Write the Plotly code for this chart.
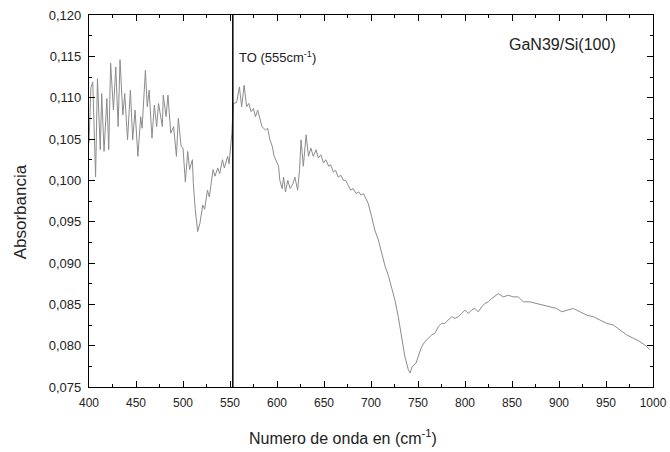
import plotly.graph_objects as go

wavenumber = [
    400, 402, 404, 407, 409, 412, 413.5, 416, 419, 421, 423, 426, 428.5, 431, 433, 436, 438, 441,
    444, 446.5, 449, 452, 455, 456.5, 460, 462, 464, 467, 469.5, 472, 474, 478, 479, 482, 484, 487,
    490, 493, 495, 498, 500, 502.5, 505, 507, 510, 511, 513, 515.6, 518, 521, 523, 526, 528, 532,
    534, 537, 539, 542, 544, 547.5, 549, 552,
    553.5, 557, 560, 562.4, 565, 567.7, 570, 572.5, 575, 577, 579.5, 582, 584, 587.6, 590, 592.5,
    595, 597, 599.6, 601.7, 603, 605.5, 607, 609, 611.5, 614, 617, 619, 622, 624, 625.6, 628, 631,
    633.5, 636, 638.6, 641.5, 644, 646.6, 649.5, 652, 655, 657, 660, 662.4, 665, 668, 670.5, 673,
    676, 678.5, 681, 684, 687, 689.4, 692,
    697, 700.7, 704, 707.8, 711.4, 715, 718.4, 722, 725.5, 729, 732.6, 736, 739.7, 741.5, 744, 748,
    751.4, 754, 757.4, 761, 764.6, 768, 771.6, 775, 778.7, 782, 785.9, 789.4, 793, 796.5, 800,
    803.5, 807, 810.6, 814, 817.8, 821, 824.8, 828.4, 835.4, 840.7, 846, 851.4, 856.7, 862, 869,
    876.3, 883.3, 890.4, 897.5, 902.9, 908.2, 915.2, 922.3, 929.4, 936.5, 943.6, 950.7, 957.8,
    964.9, 972, 979, 986, 993.3, 996.8,
]

absorbance = [
    0.1045, 0.1112, 0.1119, 0.1004, 0.1123, 0.1037, 0.1105, 0.1035, 0.1099, 0.1037, 0.1142, 0.1085,
    0.1137, 0.1065, 0.1146, 0.1079, 0.1105, 0.1049, 0.1109, 0.1049, 0.1085, 0.1029, 0.1077, 0.1063,
    0.1133, 0.1089, 0.1109, 0.1051, 0.1091, 0.1065, 0.1093, 0.1065, 0.1103, 0.1077, 0.1103, 0.1057,
    0.1065, 0.1029, 0.1075, 0.1041, 0.1039, 0.0998, 0.1035, 0.1013, 0.1025, 0.0996, 0.0965, 0.0938,
    0.0948, 0.0970, 0.0965, 0.0988, 0.0980, 0.1013, 0.1005, 0.1015, 0.1008, 0.1025, 0.1015, 0.1029,
    0.1020, 0.1057,
    0.1093, 0.1094, 0.1113, 0.1089, 0.1115, 0.1089, 0.1093, 0.1083, 0.1087, 0.1077, 0.1085, 0.1075,
    0.1065, 0.1061, 0.1063, 0.1049, 0.1041, 0.1029, 0.1023, 0.1017, 0.1000, 0.0990, 0.1004, 0.0986,
    0.1000, 0.0990, 0.0996, 0.1004, 0.0988, 0.1013, 0.1049, 0.1017, 0.1055, 0.1029, 0.1039, 0.1029,
    0.1037, 0.1027, 0.1031, 0.1021, 0.1025, 0.1017, 0.1019, 0.1010, 0.1012, 0.1004, 0.1006, 0.1000,
    0.1000, 0.0994, 0.0988, 0.0990, 0.0984, 0.0986, 0.0982, 0.0984,
    0.0972, 0.0956, 0.0940, 0.0928, 0.0912, 0.0896, 0.0885, 0.0871, 0.0855, 0.0835, 0.0811, 0.0787,
    0.0771, 0.0767, 0.0775, 0.0779, 0.0791, 0.0799, 0.0805, 0.0809, 0.0813, 0.0815, 0.0823, 0.0827,
    0.0827, 0.0831, 0.0835, 0.0833, 0.0835, 0.0839, 0.0843, 0.0839, 0.0843, 0.0845, 0.0841, 0.0847,
    0.0851, 0.0853, 0.0857, 0.0863, 0.0859, 0.0861, 0.0859, 0.0859, 0.0853, 0.0853, 0.0851, 0.0849,
    0.0847, 0.0845, 0.0841, 0.0843, 0.0845, 0.0841, 0.0837, 0.0835, 0.0831, 0.0827, 0.0825, 0.0819,
    0.0813, 0.0809, 0.0805, 0.0799, 0.0795,
]

to_position = 553
x_ticks = list(range(400, 1001, 50))
y_ticks = [0.075, 0.080, 0.085, 0.090, 0.095, 0.100, 0.105, 0.110, 0.115, 0.120]

fig = go.Figure()
fig.add_trace(go.Scatter(
    x=wavenumber, y=absorbance, mode="lines",
    line=dict(color="#8c8c8c", width=1), showlegend=False,
))

fig.add_shape(type="line", x0=to_position, x1=to_position, y0=0.075, y1=0.120,
              xref="x", yref="y", line=dict(color="black", width=1.5))

fig.add_annotation(x=557, y=0.1149, xref="x", yref="y", text="TO (555cm<sup>-1</sup>)",
                   showarrow=False, xanchor="left", yanchor="middle",
                   font=dict(size=13, color="#222"))
fig.add_annotation(x=845, y=0.1164, xref="x", yref="y", text="GaN39/Si(100)",
                   showarrow=False, xanchor="left", yanchor="middle",
                   font=dict(size=16, color="#222"))

# axis titles placed as annotations to match the reference positions
fig.add_annotation(x=-0.122, y=0.47, xref="paper", yref="paper", text="Absorbancia",
                   textangle=-90, showarrow=False, xanchor="center", yanchor="middle",
                   font=dict(size=17, color="#222"))
fig.add_annotation(x=0.45, y=-0.134, xref="paper", yref="paper",
                   text="Numero de onda en (cm<sup>-1</sup>)",
                   showarrow=False, xanchor="center", yanchor="middle",
                   font=dict(size=16, color="#222"))

axis_common = dict(
    showline=True, linecolor="black", linewidth=1.2, mirror="ticks",
    ticks="inside", ticklen=6, tickcolor="black", showgrid=False, zeroline=False,
    automargin=False,
)

fig.update_xaxes(
    range=[400, 1000], tickvals=x_ticks, tickfont=dict(size=12, color="#222"),
    ticklabelstandoff=4,
    minor=dict(dtick=25, tick0=400, ticks="inside", ticklen=3, tickcolor="black"),
    **axis_common,
)
fig.update_yaxes(
    range=[0.075, 0.120], tickvals=y_ticks, tickformat=".3f", tickfont=dict(size=13, color="#222"),
    ticklabelstandoff=4,
    minor=dict(dtick=0.0025, tick0=0.075, ticks="inside", ticklen=3, tickcolor="black"),
    **axis_common,
)

fig.update_layout(
    width=670, height=452,
    margin=dict(l=89, r=17, t=15, b=65, autoexpand=False),
    plot_bgcolor="white", paper_bgcolor="white",
    separators=",.",
    font=dict(family="Liberation Sans, Arial, sans-serif"),
)

fig.write_html("out.html")
